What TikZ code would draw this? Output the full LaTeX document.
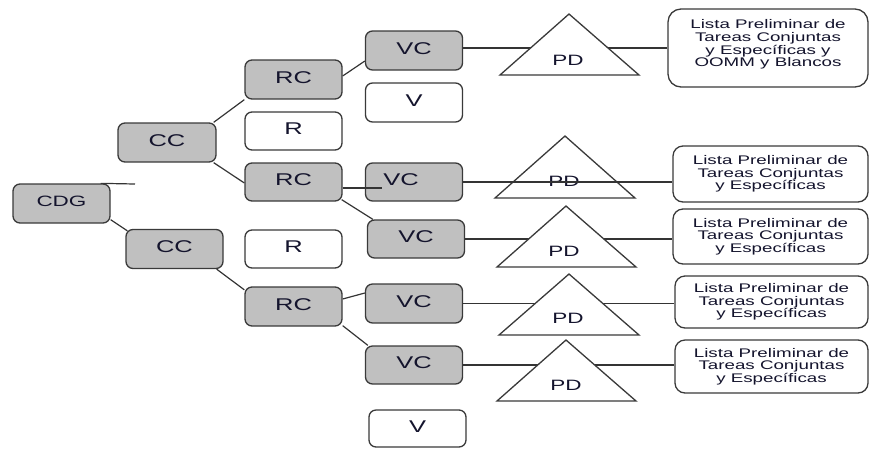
\documentclass[tikz,border=0pt]{standalone}
\usepackage{fontspec}
\setmainfont{Liberation Sans}[FakeStretch=1.5]
\usetikzlibrary{calc}
\pgfdeclarelayer{bg}
\pgfsetlayers{bg,main}
\definecolor{boxfill}{RGB}{192,192,192}
\definecolor{edge}{RGB}{58,58,58}
\definecolor{ink}{RGB}{20,20,45}
\begin{document}
\begin{tikzpicture}[x=1pt,y=-1pt,
  base/.style={draw=edge, line width=1.3pt, rounded corners=7pt, inner sep=0pt, text=ink},
  gbox/.style={base, fill=boxfill, minimum width=97pt, minimum height=39pt, text depth=4pt, font=\fontsize{17}{20}\selectfont},
  wbox/.style={base, fill=white, minimum width=97pt, minimum height=38pt, text depth=4pt, font=\fontsize{17}{20}\selectfont},
  lbox/.style={base, rounded corners=10pt, fill=white, align=center, font=\fontsize{12.5}{12.7}\selectfont},
  tri/.style={draw=edge, line width=1.3pt, fill=white, line join=miter},
  pdlbl/.style={inner sep=0pt, text=ink, font=\fontsize{15}{18}\selectfont},
  conn/.style={draw=edge!90!black, line width=1.2pt}]
\useasboundingbox (0,0) rectangle (869,448);

% left tree
\node[gbox, font=\fontsize{15}{18}\selectfont] (cdg) at (61.5,203.5) {CDG};
\node[gbox, minimum width=98pt] (cc1) at (167,142.5) {CC};
\node[gbox] (cc2) at (174.5,249) {CC};
\node[gbox] (rc1) at (293.5,79.5) {RC};
\node[wbox] (r1) at (293.5,131) {R};
\node[gbox, minimum height=38pt] (rc2) at (293.5,182) {RC};
\node[wbox] (r2) at (293.5,249) {R};
\node[gbox] (rc3) at (293.5,306.5) {RC};
\node[gbox] (vc1) at (414,50.5) {VC};
\node[wbox, minimum height=39pt] (v1) at (414,102.5) {V};
\node[gbox, minimum height=38pt] (vc2) at (414,182) {\hspace*{-26pt}VC};
\node[gbox, minimum height=38pt] (vc3) at (416,239) {VC};
\node[gbox] (vc4) at (414,303.5) {VC};
\node[gbox, minimum height=38pt] (vc5) at (414,365) {VC};
\node[wbox, minimum height=37pt] (v2) at (417.5,428.5) {V};

% triangles
\draw[tri] (569,14) -- (639,75) -- (500,75) -- cycle;
\node[pdlbl] (pd1) at (568,60) {PD};
\draw[tri] (565,136) -- (635,198) -- (495,198) -- cycle;
\node[pdlbl] (pd2) at (564,181) {PD};
\draw[tri] (566,206) -- (636,267) -- (497,267) -- cycle;
\node[pdlbl] (pd3) at (564,251) {PD};
\draw[tri] (569,274) -- (639,335) -- (499,335) -- cycle;
\node[pdlbl] (pd4) at (568,318) {PD};
\draw[tri] (566,340) -- (636,401) -- (497,401) -- cycle;
\node[pdlbl] (pd5) at (566,385) {PD};

% result boxes
\node[lbox, rounded corners=13pt, minimum width=200pt, minimum height=78pt] (box1) at (768,48)
  {Lista Preliminar de\\Tareas Conjuntas\\y Específicas y\\OOMM y Blancos\\[-3pt]\mbox{}};
\node[lbox, minimum width=195pt, minimum height=56pt] (box2) at (770.5,174)
  {Lista Preliminar de\\Tareas Conjuntas\\y Específicas};
\node[lbox, minimum width=195pt, minimum height=55pt] (box3) at (770.5,236.5)
  {Lista Preliminar de\\Tareas Conjuntas\\y Específicas};
\node[lbox, minimum width=193pt, minimum height=52pt] (box4) at (771.5,302)
  {Lista Preliminar de\\Tareas Conjuntas\\y Específicas};
\node[lbox, minimum width=193pt, minimum height=53pt] (box5) at (771.5,366.5)
  {Lista Preliminar de\\Tareas Conjuntas\\y Específicas};

\coordinate (stub) at (135,184);

\begin{pgfonlayer}{bg}
\draw[conn] ([xshift=-10pt]cdg.north east) -- (stub);
\draw[conn] ([yshift=4pt]cdg.south east) -- ([xshift=2pt,yshift=-2pt]cc2.north west);
\draw[conn] ([xshift=-3pt]cc1.north east) -- (rc1.south west);
\draw[conn] ([xshift=-3pt]cc1.south east) -- ([yshift=-1pt]rc2.west);
\draw[conn] ([xshift=-7pt]cc2.south east) -- ([yshift=-3.5pt]rc3.north west);
\draw[conn] ([yshift=3.5pt]rc1.east) -- ([yshift=-10.5pt]vc1.west);
\draw[conn] ([xshift=-1pt,yshift=2pt]rc2.south east) -- ([xshift=6pt]vc3.north west);
\draw[conn] ([yshift=7.5pt]rc3.east) -- ([yshift=10.5pt]vc4.west);
\draw[conn] ([yshift=1pt]rc3.south east) -- ([xshift=3pt]vc5.north west);
\draw[conn] ([yshift=2.5pt]vc1.east) -- (box1.west);
\draw[conn] (vc3.east) -- (vc3.east -| box3.west);
\draw[conn] (vc4.east) -- (vc4.east -| box4.west);
\draw[conn] (vc5.east) -- (vc5.east -| box5.west);
\end{pgfonlayer}

% connectors drawn over shapes
\draw[conn] ([yshift=-6pt]rc2.east) -- ([xshift=17pt,yshift=-6pt]vc2.west);
\draw[conn] (vc2.east) -- (vc2.east -| box2.west);
\end{tikzpicture}
\end{document}
